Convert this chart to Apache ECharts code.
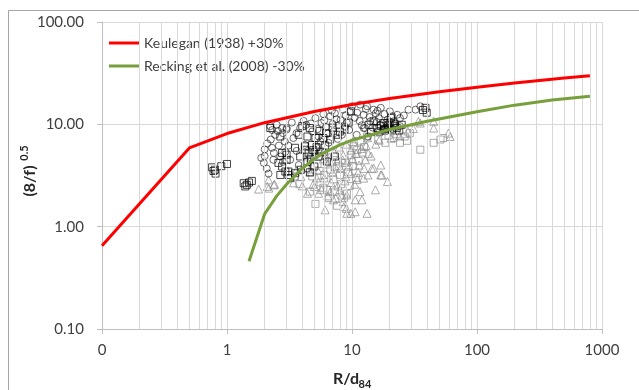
<!DOCTYPE html>
<html>
<head>
<meta charset="utf-8">
<script src="https://cdn.jsdelivr.net/npm/echarts@6/dist/echarts.min.js"></script>
<style>
  html, body { margin: 0; padding: 0; background: #fff; }
  #chart { width: 639px; height: 390px; }
</style>
</head>
<body>
<div id="chart"></div>
<script>
// Keulegan (1938) +30% reference curve
const keuleganX = [0.1, 0.5, 1, 2, 5, 10, 20, 50, 100, 200, 500, 800];
const keuleganY = [0.65, 5.88, 8.13, 10.38, 13.35, 15.6, 17.85, 20.83, 23.08, 25.33, 28.3, 29.8];

// Recking et al. (2008) -30% reference curve
const reckingX = [1.5, 2, 2.5, 3, 4, 5, 6, 8, 10, 20, 40, 100, 200, 400, 800];
const reckingY = [0.46, 1.33, 2.0, 2.6, 3.7, 4.6, 5.3, 6.3, 7.0, 8.9, 10.7, 13.3, 15.4, 17.3, 18.8];

// Field measurements, [R/d84, (8/f)^0.5]
const blackCircles = [
  [2.0,5.7],[1.88,4.7],[1.97,4.2],[2.08,3.7],[2.15,3.3],[2.22,9.6],[2.5,9.9],[2.76,9.2],[3.0,8.9],[2.24,7.1],
  [2.29,5.9],[2.37,5.25],[2.67,4.85],[2.8,4.3],[2.43,7.9],[2.1,6.5],[2.6,6.2],[2.9,6.8],[2.55,8.6],[2.3,8.8],
  [2.0,4.9],[2.35,4.5],
  [5.7,10.3],[6.7,12],[7.8,9.8],[9.1,10.4],[10,15],[11.6,15.6],[8.5,13.9],[7.1,8.5],[4.8,8.5],[3.85,9.2],
  [3.0,9.2],[2.8,8.2],[3.4,7.35],[4.2,6.3],[5.2,5.9],[6.0,5.25],[2.93,5.4],[3.2,4.5],[3.75,4.0],[4.4,3.7],
  [5.0,5.4],[5.6,6.8],[8.3,7.9],[10.9,7.9],[12.4,9.2],[3.3,10.4],[4.1,10.8],[5.1,11.5],[6.2,9.4],[7.5,11.2],
  [8.9,12.3],[9.6,13.2],[6.9,13.6],[7.7,7.2],[9.5,8.8],[3.6,5.5],[4.6,4.8],[5.4,7.6],[6.5,6.6],[3.1,6.2],
  [4.3,9.9],[10.5,11.6],[5.3,9.0],[6.0,10.9],[7.3,12.8],[8.1,11.0],[4.7,10.2],[6.4,8.1],[8.8,9.5],[3.6,8.2],
  [5.9,12.6],[7.0,10.1],
  [13.2,15],[12.4,12.4],[14.9,13.9],[17,14.5],[14,10.7],[16.4,11.5],[19.2,11.1],[21.5,10.7],[24.2,11.5],[28.3,13.9],
  [32.2,13.9],[35.2,15],[12.7,9.2],[13.4,7.6],[12,9.8],[24.2,9.6],[22.2,10.3],[15.5,12.8],[18.2,12.6],[20.1,13.4],
  [16.8,9.9],[13.8,11.8],[11.5,10.8],[19.8,9.6],[26,12.2],[17.6,8.9],[14.6,9.3],[23.0,12.4],[18.8,10.4],[15.8,10.5],
  [11.0,13.0],[12.9,14.1],[21.0,12.0],[16.0,13.6]
];

const blackSquares = [
  [0.76,3.8],[0.8,3.6],[0.81,3.3],[0.9,3.9],[1.0,4.1],[0.78,3.5],
  [1.36,2.66],[1.44,2.56],[1.58,2.8],[1.4,2.47],[1.5,2.7],
  [2.22,9.2],[2.67,7.6],[2.76,5.25],[2.58,4.2],[2.93,3.46],[2.67,3.2],[3.1,3.2],[3.0,4.5],
  [4.0,9.6],[4.6,9.2],[3.75,7.9],[4.4,7.6],[5.1,7.35],[5.9,7.35],[6.7,7.1],[4.2,6.1],[4.2,5.65],[3.5,5.9],
  [3.0,5.05],[2.76,3.87],[3.1,3.46],[3.5,3.33],[3.2,2.98],[4.8,6.3],[5.4,4.85],[5.0,3.87],[8.0,8.5],[9.4,10.4],
  [9.8,13.4],[6.3,4.33],[7.3,4.85],[3.85,4.85],[4.5,5.2],[4.9,5.6],[4.7,4.6],[5.2,6.0],[4.4,4.3],[3.9,3.6],
  [4.6,3.4],[5.7,5.4],[6.1,6.2],[7.0,9.3],[6.2,8.2],[8.7,8.9],[5.5,8.6],[7.7,7.9],
  [38.7,14.5],[39.6,13],[37,13.8],[17,9.6],[19.2,9.2],[20.9,8.9],[17.9,10.3],[22.8,9.2],[15.9,9.2],[14.9,10.7],
  [19.5,9.8],[18.3,8.7],[21.6,10],[23.9,8.7],[16.6,8.5],[13.6,9.9],[20.5,11.6],[25,9.9],[14.2,8.4],[18.0,9.0],
  [20.0,10.4],[22.0,9.6]
];

const greySquares = [
  [13.2,7.6],[18.5,6.6],[21.5,7.35],[24.2,6.6],[26.4,7.6],[29,8.2],[35.2,5.65],[45,6.6],[51,7.1],[53.5,7.35],
  [16.2,7.1],[19.6,7.8],[22.8,8.0],[27.5,6.9],
  [5.1,1.67],[7.6,1.6],[6.3,2.3],[7.1,2.9],[8.2,2.6],[9.3,3.4],[10.2,3.9],[11.3,4.4],[5.6,2.7],[4.8,3.1],
  [6.7,3.6],[8.8,4.2],[7.9,3.9],[9.9,5.0],[6.0,3.2],[4.3,3.7],[5.3,4.1],[7.3,2.2],[8.6,1.9],[9.6,2.5],
  [10.8,3.0],[6.5,1.9],[5.9,2.4],[12.1,5.3],[11.0,5.6],[4.6,2.2],[3.8,2.6],[3.5,3.1],[8.0,3.2],[9.1,2.1],
  [6.9,4.3],[5.5,3.5],[12.5,6.0],[10.4,6.1],[11.7,6.8]
];

const greyTriangles = [
  [2.1,2.47],[2.37,2.56],[1.79,2.33],[2.16,2.38],[2.4,2.6],[2.15,2.87],[3.4,2.68],
  [5.0,2.47],[6.1,1.46],[7.1,1.83],[8.3,2.04],[6.7,2.2],[8.6,1.57],[9.1,1.35],[5.4,2.12],[4.4,2.12],
  [17,3.2],[19.2,2.76],[15.4,2.29],[11.6,2.2],[10.6,1.83],[12,1.83],[13.2,1.35],[10.6,1.4],[9.8,1.35],[9.0,1.51],
  [9.1,2.04],[8.5,1.76],[17,4.0],[14.9,3.73],[17.3,3.2],[12.4,2.98],[13.4,3.2],[14.4,3.7],
  [45,10.7],[35.2,10.3],[59,8.2],[61,7.6],[34,10.7],[45,9.2],
  [4.2,4.3],[4.8,4.0],[5.3,3.6],[5.9,4.6],[6.4,4.1],[7.0,3.4],[7.6,4.4],[8.1,3.7],[8.9,3.1],[9.4,3.9],
  [10.1,4.6],[10.8,5.2],[11.4,4.0],[9.8,5.6],[8.5,5.0],[7.2,5.3],[6.1,5.0],[5.5,5.6],[6.8,2.7],[7.7,2.5],
  [8.8,2.8],[9.7,3.3],[10.5,2.6],[11.2,3.4],[6.0,3.0],[5.2,3.0],[4.6,3.4],[3.9,3.1],[4.0,2.5],[4.9,2.6],
  [5.7,2.3],[6.4,2.0],[7.4,1.9],[8.0,2.3],[12.8,4.5],[13.5,5.2],[11.9,5.8],[12.5,3.7],[14.2,4.9],[13.0,6.2],
  [7.9,6.0],[9.0,6.4],[10.2,6.8],[8.4,4.5],[6.6,4.8],[5.0,5.1],[7.3,3.9],[9.2,4.4],[11.0,2.9],[3.6,3.6],
  [13.3,7.4],[15.5,6.4],[16.5,7.0],[20.5,7.3],[24,7.7],[28,8.6],[31,9.1]
];

// Axis ticks and their printed labels
const xTickValues = [0.1, 1, 10, 100, 1000];
const xTickLabels = ['0', '1', '10', '100', '1000'];
const yTickValues = [0.1, 1, 10, 100];
const yTickLabels = ['0.10', '1.00', '10.00', '100.00'];

// Intermediate vertical gridlines (2..9 within each decade)
const minorX = [0.2,0.3,0.4,0.5,0.6,0.7,0.8,0.9, 2,3,4,5,6,7,8,9, 20,30,40,50,60,70,80,90, 200,300,400,500,600,700,800,900];

const FONT = 'Lato, "Open Sans", sans-serif';
const GRID = '#d9d9d9';

function tickLabel(values, labels) {
  return v => {
    const i = values.findIndex(t => Math.abs(Math.log10(t) - Math.log10(v)) < 1e-6);
    return i < 0 ? '' : labels[i];
  };
}

const zip = (xs, ys) => xs.map((x, i) => [x, ys[i]]);

const chart = echarts.init(document.getElementById('chart'), null, { renderer: 'canvas' });

const hollow = (color, width) => ({ color: 'rgba(0,0,0,0)', borderColor: color, borderWidth: width });

chart.setOption({
  animation: false,
  backgroundColor: '#fff',
  textStyle: { fontFamily: FONT },
  grid: { left: 102, right: 37, top: 22, bottom: 61, containLabel: false },
  xAxis: {
    type: 'log', logBase: 10, min: 0.1, max: 1000,
    axisLine: { show: true, lineStyle: { color: '#bfbfbf', width: 1 } },
    axisTick: { show: true, length: 5, lineStyle: { color: '#bfbfbf' } },
    axisLabel: { formatter: tickLabel(xTickValues, xTickLabels), fontSize: 15, color: '#404040', margin: 14, fontFamily: FONT },
    splitLine: { show: true, lineStyle: { color: GRID, width: 1 } }
  },
  yAxis: {
    type: 'log', logBase: 10, min: 0.1, max: 100,
    axisLine: { show: true, lineStyle: { color: '#bfbfbf', width: 1 } },
    axisTick: { show: true, length: 5, lineStyle: { color: '#bfbfbf' } },
    axisLabel: { formatter: tickLabel(yTickValues, yTickLabels), fontSize: 15, color: '#404040', margin: 18, fontFamily: FONT },
    splitLine: { show: true, lineStyle: { color: GRID, width: 1 } }
  },
  legend: {
    data: ['Keulegan (1938) +30%', 'Recking et al. (2008) -30%'],
    orient: 'vertical', left: 104, top: 31, itemWidth: 30, itemHeight: 3, itemGap: 9,
    icon: 'rect',
    textStyle: { fontSize: 14, color: '#404040', fontFamily: FONT }
  },
  graphic: [
    { type: 'rect', shape: { x: 8.5, y: 10.5, width: 700, height: 500 }, style: { fill: 'none', stroke: '#a6a6a6', lineWidth: 1 }, silent: true, z: -10 },
    { type: 'text', x: 30, y: 181, rotation: Math.PI / 2, style: { text: '(8/f)', font: 'bold 16px ' + FONT, fill: '#262626', align: 'center', verticalAlign: 'middle' } },
    { type: 'text', x: 24, y: 153, rotation: Math.PI / 2, style: { text: '0.5', font: 'bold 11px ' + FONT, fill: '#262626', align: 'center', verticalAlign: 'middle' } },
    { type: 'text', x: 346, y: 379, style: { text: 'R/d', font: 'bold 16px ' + FONT, fill: '#262626', align: 'center', verticalAlign: 'middle' } },
    { type: 'text', x: 365, y: 384, style: { text: '84', font: 'bold 11px ' + FONT, fill: '#262626', align: 'center', verticalAlign: 'middle' } }
  ],
  series: [
    {
      name: 'minor-grid', type: 'line', data: [], silent: true, z: 0,
      markLine: {
        silent: true, symbol: ['none', 'none'], label: { show: false },
        lineStyle: { color: GRID, type: 'solid', width: 1 },
        animation: false,
        data: minorX.map(v => ({ xAxis: v }))
      }
    },
    { name: 'grey triangles', type: 'scatter', data: greyTriangles, symbol: 'triangle', symbolSize: 8, itemStyle: hollow('#8c8c8c', 0.9), z: 2 },
    { name: 'grey squares', type: 'scatter', data: greySquares, symbol: 'rect', symbolSize: 7, itemStyle: hollow('#8c8c8c', 0.9), z: 2 },
    { name: 'black circles', type: 'scatter', data: blackCircles, symbol: 'circle', symbolSize: 7, itemStyle: hollow('#1a1a1a', 0.8), z: 3 },
    { name: 'black squares', type: 'scatter', data: blackSquares, symbol: 'rect', symbolSize: 7, itemStyle: hollow('#000', 0.9), z: 3 },
    { name: 'Keulegan (1938) +30%', type: 'line', data: zip(keuleganX, keuleganY), symbol: 'none', color: '#ff0000', lineStyle: { color: '#ff0000', width: 3 }, z: 5 },
    { name: 'Recking et al. (2008) -30%', type: 'line', data: zip(reckingX, reckingY), symbol: 'none', color: '#77a03c', lineStyle: { color: '#77a03c', width: 3 }, z: 5 }
  ]
});
</script>
</body>
</html>
